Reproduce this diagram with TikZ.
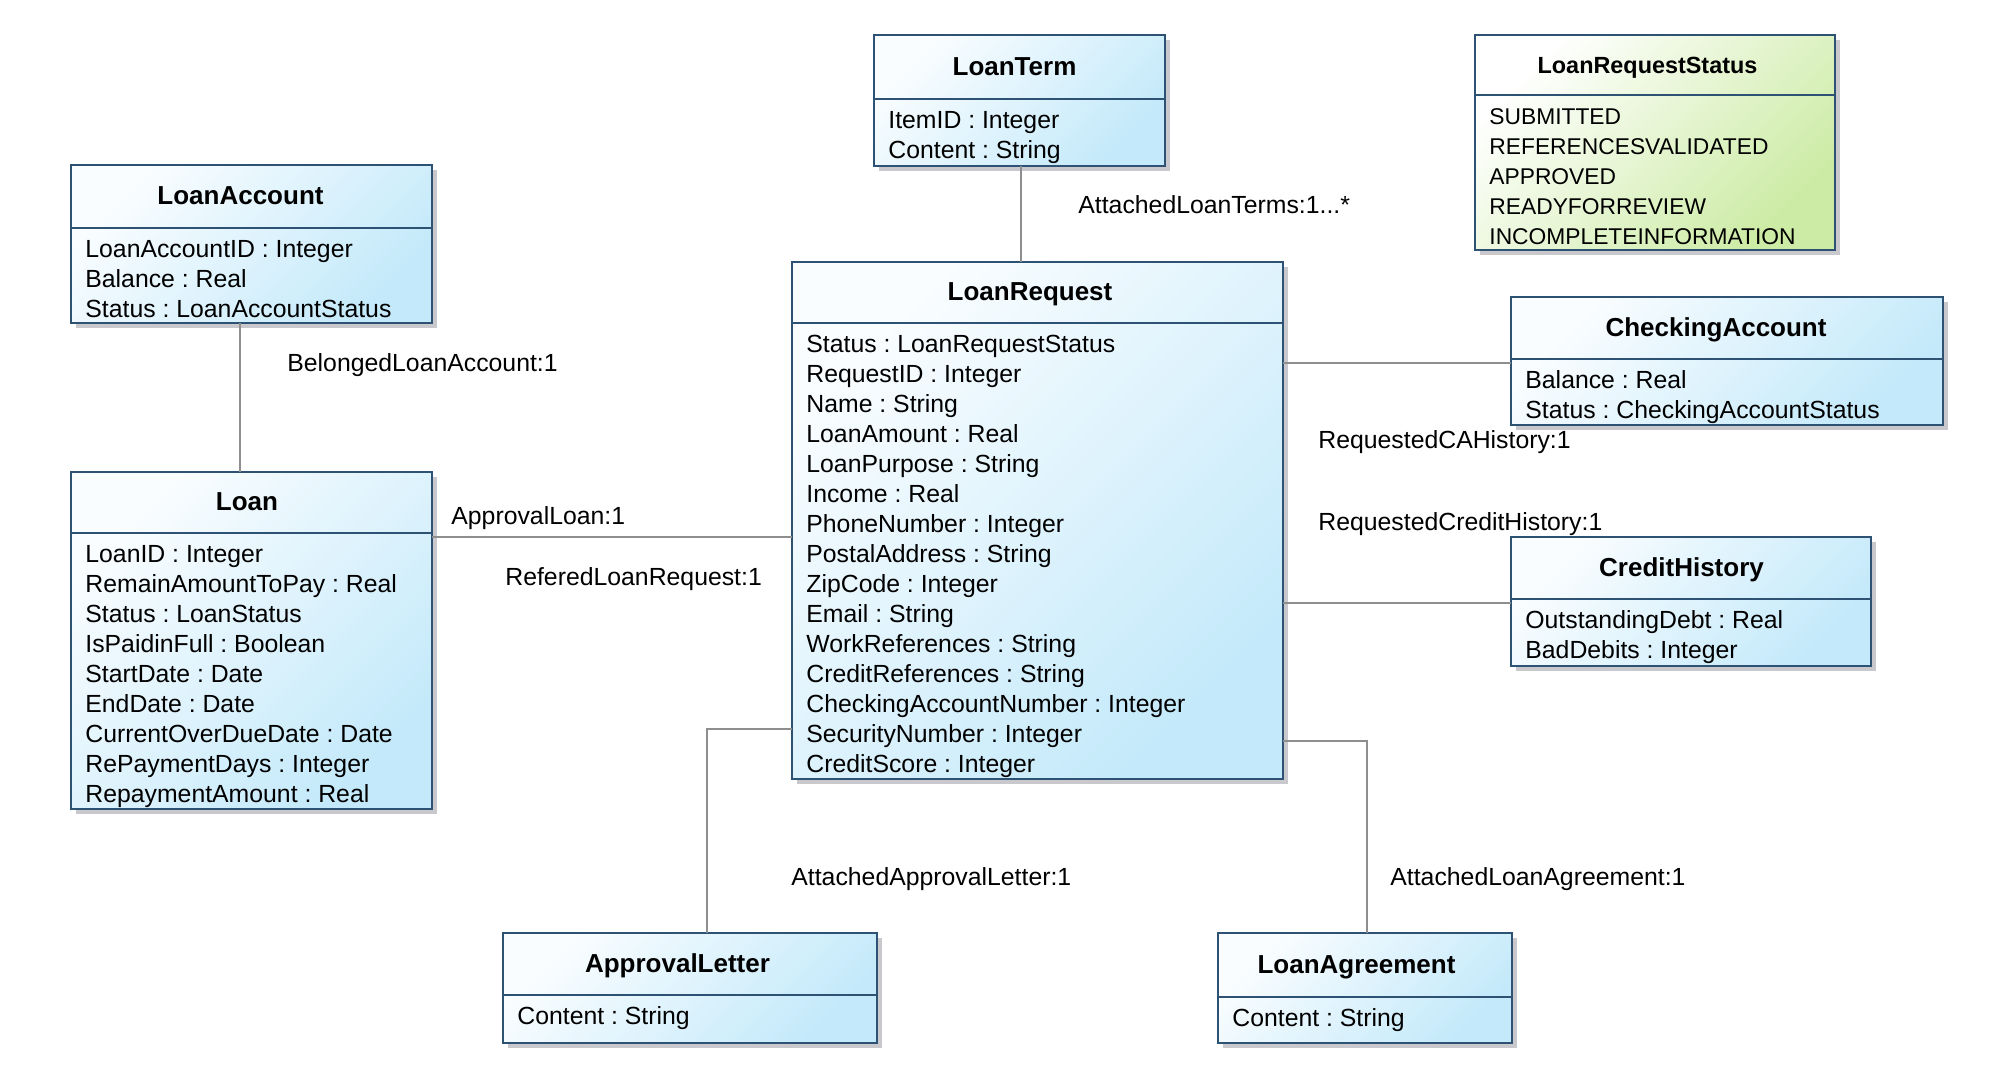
\documentclass[tikz,border=0pt]{standalone}
\usepackage{fontspec}
\setmainfont{Liberation Sans}
\usetikzlibrary{calc,fit,shadows}
\definecolor{bordc}{HTML}{2E5274}
\definecolor{clsA}{HTML}{FAFDFF}
\definecolor{clsB}{HTML}{C3E9FA}
\definecolor{enmA}{HTML}{FFFFFF}
\definecolor{enmB}{HTML}{CCEBA4}
\definecolor{shadc}{HTML}{C9C9CD}
\definecolor{connc}{HTML}{8E8E8E}
\tikzset{
  boxbase/.style={draw=bordc, line width=1.2pt, inner sep=0pt, outer sep=0pt,
    drop shadow={shadow xshift=2.5pt, shadow yshift=-2.5pt, fill=shadc, opacity=1}},
  classfill/.style={boxbase, top color=clsA, bottom color=clsB, shading angle=45},
  enumfill/.style={boxbase, top color=enmA, bottom color=enmB, shading angle=45},
  divl/.style={draw=bordc, line width=1.1pt},
  titlef/.style={font=\fontsize{13}{15}\selectfont\bfseries, inner sep=0pt},
  attrf/.style={font=\fontsize{12.4}{15}\selectfont, inner sep=0pt},
  lblf/.style={font=\fontsize{12.4}{15}\selectfont, inner sep=0pt, anchor=base west},
  conn/.style={draw=connc, line width=1.35pt},
}
% #1 style, #2 name, #3 top-left, #4 bottom-right, #5 header height, #6 title dx, #7 title, #8 rows
\newcommand{\umlbox}[8][classfill]{%
  \node[#1, fit={(#3) (#4)}] (#2) {};
  \draw[divl] ($(#2.north west)+(0,#5)$) -- ($(#2.north east)+(0,#5)$);
  \node[titlef, anchor=base] (#2-t) at ($(#2.north)+(#6,#5/2+8)$) {#7};
  \foreach \r [count=\i from 0] in {#8}
    \node[attrf, anchor=base west] (#2-r\i) at ($(#2.north west)+(14,#5+29+30*\i)$) {\r};
}
\begin{document}
\frenchspacing
\begin{tikzpicture}[x=0.5pt,y=-0.5pt]
\fill[white] (0,0) rectangle (2014,1084);
\useasboundingbox (0,0) rectangle (2014,1084);

\umlbox{lt}{874,35}{1165,166}{64}{-5}{LoanTerm}{ItemID : Integer, Content : String}
\begin{scope}[titlef/.append style={font=\fontsize{11.7}{15}\selectfont\bfseries},
              attrf/.append style={font=\fontsize{11.4}{15}\selectfont}]
\umlbox[enumfill]{lrs}{1475,35}{1835,250}{60}{-7.5}{LoanRequestStatus}{SUBMITTED, REFERENCESVALIDATED, APPROVED, READYFORREVIEW, INCOMPLETEINFORMATION}
\end{scope}
\umlbox{la}{71,165}{432,323}{63}{-11}{LoanAccount}{LoanAccountID : Integer, Balance : Real, Status : LoanAccountStatus}
\umlbox{loan}{71,472}{432,809}{61}{-4.5}{Loan}{LoanID : Integer, RemainAmountToPay : Real, Status : LoanStatus, IsPaidinFull : Boolean, StartDate : Date, EndDate : Date, CurrentOverDueDate : Date, RePaymentDays : Integer, RepaymentAmount : Real}
\umlbox{lr}{792,262}{1283,779}{61}{-7.5}{LoanRequest}{Status : LoanRequestStatus, RequestID : Integer, Name : String, LoanAmount : Real, LoanPurpose : String, Income : Real, PhoneNumber : Integer, PostalAddress : String, ZipCode : Integer, Email : String, WorkReferences : String, CreditReferences : String, CheckingAccountNumber : Integer, SecurityNumber : Integer, CreditScore : Integer}
\umlbox{ca}{1511,297}{1943,425}{62}{-11}{CheckingAccount}{Balance : Real, Status : CheckingAccountStatus}
\umlbox{ch}{1511,537}{1871,666}{62}{-9.5}{CreditHistory}{OutstandingDebt : Real, BadDebits : Integer}
\umlbox{al}{503,933}{877,1043}{62}{-12.5}{ApprovalLetter}{Content : String}
\umlbox{lag}{1218,933}{1512,1043}{64}{-8.5}{LoanAgreement}{Content : String}

% connectors
\coordinate (c1) at ($(lt.south)+(1.5,0)$);
\draw[conn] (c1) -- (c1 |- lr.north);
\coordinate (c2) at ($(la.south)+(-11.5,0)$);
\draw[conn] (c2) -- (c2 |- loan.north);
\coordinate (c3) at ($(loan.north east)+(0,65)$);
\draw[conn] (c3) -- (c3 -| lr.west);
\coordinate (c4) at ($(ca.north west)+(0,66)$);
\draw[conn] (c4 -| lr.east) -- (c4);
\coordinate (c5) at ($(ch.north west)+(0,66)$);
\draw[conn] (c5 -| lr.east) -- (c5);
\coordinate (c6) at ($(lr.north west)+(0,467)$);
\coordinate (c6b) at ($(al.north west)+(204,0)$);
\draw[conn] (c6) -| (c6b);
\coordinate (c7) at ($(lr.north east)+(0,479)$);
\coordinate (c7b) at ($(lag.north west)+(149,0)$);
\draw[conn] (c7) -| (c7b);

% labels
\node[lblf] (l1) at (1078,213) {AttachedLoanTerms:1...*};
\node[lblf] (l2) at (287,371) {BelongedLoanAccount:1};
\node[lblf] (l3) at (451,524) {ApprovalLoan:1};
\node[lblf] (l4) at (505,585) {ReferedLoanRequest:1};
\node[lblf] (l5) at (1318,448) {RequestedCAHistory:1};
\node[lblf] (l6) at (1318,530) {RequestedCreditHistory:1};
\node[lblf] (l7) at (791,885) {AttachedApprovalLetter:1};
\node[lblf] (l8) at (1390,885) {AttachedLoanAgreement:1};
\end{tikzpicture}
\end{document}
